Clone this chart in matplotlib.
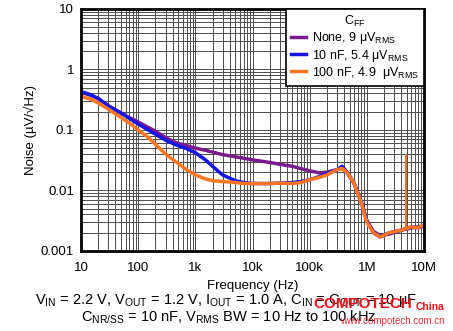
import numpy as np
import matplotlib
matplotlib.use('Agg')
import matplotlib.pyplot as plt
from matplotlib.ticker import LogLocator, NullFormatter

plt.rcParams['font.family'] = ['Liberation Sans', 'DejaVu Sans']
plt.rcParams['mathtext.fontset'] = 'custom'
plt.rcParams['mathtext.rm'] = 'Liberation Sans'
plt.rcParams['mathtext.it'] = 'Liberation Sans:italic'
plt.rcParams['mathtext.bf'] = 'Liberation Sans:bold'

# frequency points (Hz)
freq = [10, 15, 20, 30, 50, 70, 100, 150, 200, 300, 450, 700,
        1e3, 1.5e3, 2e3, 3e3, 5e3, 7e3, 1e4, 2e4, 3e4, 5e4, 7e4,
        1e5, 1.5e5, 2e5, 3e5, 3.7e5, 4.5e5, 6e5, 8e5, 1e6, 1.3e6,
        1.7e6, 2.5e6, 4e6, 6e6, 8e6, 1e7]

# noise (uV/rtHz)
noise_none = [0.42, 0.37, 0.33, 0.25, 0.19, 0.16, 0.135, 0.11, 0.095, 0.075,
              0.062, 0.055, 0.05, 0.046, 0.043, 0.039, 0.036, 0.034, 0.032,
              0.029, 0.027, 0.025, 0.023, 0.021, 0.0195, 0.020, 0.022, 0.023,
              0.020, 0.013, 0.0065, 0.0032, 0.0021, 0.0018, 0.0019, 0.0022,
              0.0024, 0.0025, 0.0026]
noise_10n = [0.43, 0.38, 0.33, 0.25, 0.19, 0.155, 0.125, 0.10, 0.085, 0.068,
             0.057, 0.049, 0.042, 0.032, 0.025, 0.018, 0.0145, 0.0135, 0.013,
             0.013, 0.0132, 0.0135, 0.014, 0.015, 0.017, 0.019, 0.022, 0.025,
             0.020, 0.013, 0.0064, 0.0031, 0.0020, 0.0017, 0.0020, 0.0022,
             0.0025, 0.0024, 0.0026]
noise_100n = [0.36, 0.32, 0.28, 0.22, 0.16, 0.13, 0.10, 0.075, 0.058, 0.040,
              0.030, 0.022, 0.018, 0.0155, 0.0145, 0.014, 0.0135, 0.013, 0.013,
              0.013, 0.0132, 0.013, 0.0135, 0.015, 0.0165, 0.018, 0.022, 0.023,
              0.020, 0.013, 0.0062, 0.0030, 0.0020, 0.0017, 0.0020, 0.0022,
              0.0025, 0.0024, 0.0027]

# spur on the 100 nF trace
spur_freq = 4.9e6
spur_base = 0.0023
spur_top = 0.04

labels = ['None, 9 $\\mathrm{\\mu V_{RMS}}$',
          '10 nF, 5.4 $\\mathrm{\\mu V_{RMS}}$',
          '100 nF, 4.9  $\\mathrm{\\mu V_{RMS}}$']
colors = ['#7a1a8c', '#1414e6', '#ff7620']

xticks = [10, 100, 1e3, 1e4, 1e5, 1e6, 1e7]
xticklabels = ['10', '100', '1k', '10k', '100k', '1M', '10M']
yticks = [0.001, 0.01, 0.1, 1, 10]
yticklabels = ['0.001', '0.01', '0.1', '1', '10']

fig = plt.figure(figsize=(4.53, 3.31), dpi=100)
ax = fig.add_axes([0.179, 0.242, 0.757, 0.731])

for y, c, lab in zip([noise_none, noise_10n, noise_100n], colors, labels):
    ax.plot(freq, y, color=c, lw=2.5, label=lab)
ax.vlines(spur_freq, spur_base, spur_top, color=colors[2], lw=1.5)

ax.set_xscale('log')
ax.set_yscale('log')
ax.set_xlim(10, 1e7)
ax.set_ylim(0.001, 10)

ax.set_xticks(xticks)
ax.set_xticklabels(xticklabels)
ax.set_yticks(yticks)
ax.set_yticklabels(yticklabels)
ax.xaxis.set_minor_locator(LogLocator(base=10, subs=np.arange(2, 10)))
ax.yaxis.set_minor_locator(LogLocator(base=10, subs=np.arange(2, 10)))
ax.xaxis.set_minor_formatter(NullFormatter())
ax.yaxis.set_minor_formatter(NullFormatter())
ax.tick_params(which='both', length=0, labelsize=9.5)
ax.tick_params(axis='x', pad=8)
ax.tick_params(axis='y', pad=5)

ax.grid(True, which='both', color='0.3', lw=0.7)
ax.set_axisbelow(True)
for s in ax.spines.values():
    s.set_linewidth(2)

ax.set_xlabel('Frequency (Hz)', fontsize=9.5, labelpad=4)
ax.set_ylabel('Noise (\u00b5V/\u221aHz)', fontsize=9.5, labelpad=3)

leg = ax.legend(loc='upper right', bbox_to_anchor=(1, 1), borderaxespad=0,
                title='C$_{\\mathrm{FF}}$', fontsize=9, title_fontsize=9,
                handlelength=1.2, handletextpad=0.5, labelspacing=0.1,
                fancybox=False, framealpha=1, edgecolor='k')
leg.get_frame().set_linewidth(1.2)

fig.text(0.5, 0.093, 'V$_{\\mathrm{IN}}$ = 2.2 V, V$_{\\mathrm{OUT}}$ = 1.2 V, '
         'I$_{\\mathrm{OUT}}$ = 1.0 A, C$_{\\mathrm{IN}}$ = C$_{\\mathrm{OUT}}$ = 10 \u00b5F',
         ha='center', va='center', fontsize=10.5)
fig.text(0.505, 0.04, 'C$_{\\mathrm{NR/SS}}$ = 10 nF, V$_{\\mathrm{RMS}}$ BW = 10 Hz to 100 kHz',
         ha='center', va='center', fontsize=10.5)

# watermark
fig.text(313 / 453, 1 - 304 / 331, 'COMPOTECH', color='#e8101a', fontsize=11,
         fontweight='bold', ha='left', va='center')
fig.text(445 / 453, 1 - 307 / 331, 'China', color='#e8101a', fontsize=7.5,
         fontweight='bold', ha='right', va='center')
fig.text(445 / 453, 1 - 321 / 331, 'www.compotech.com.cn', color='#e8101a',
         fontsize=7, ha='right', va='center', alpha=0.85)

fig.savefig('out.png', dpi=100)
